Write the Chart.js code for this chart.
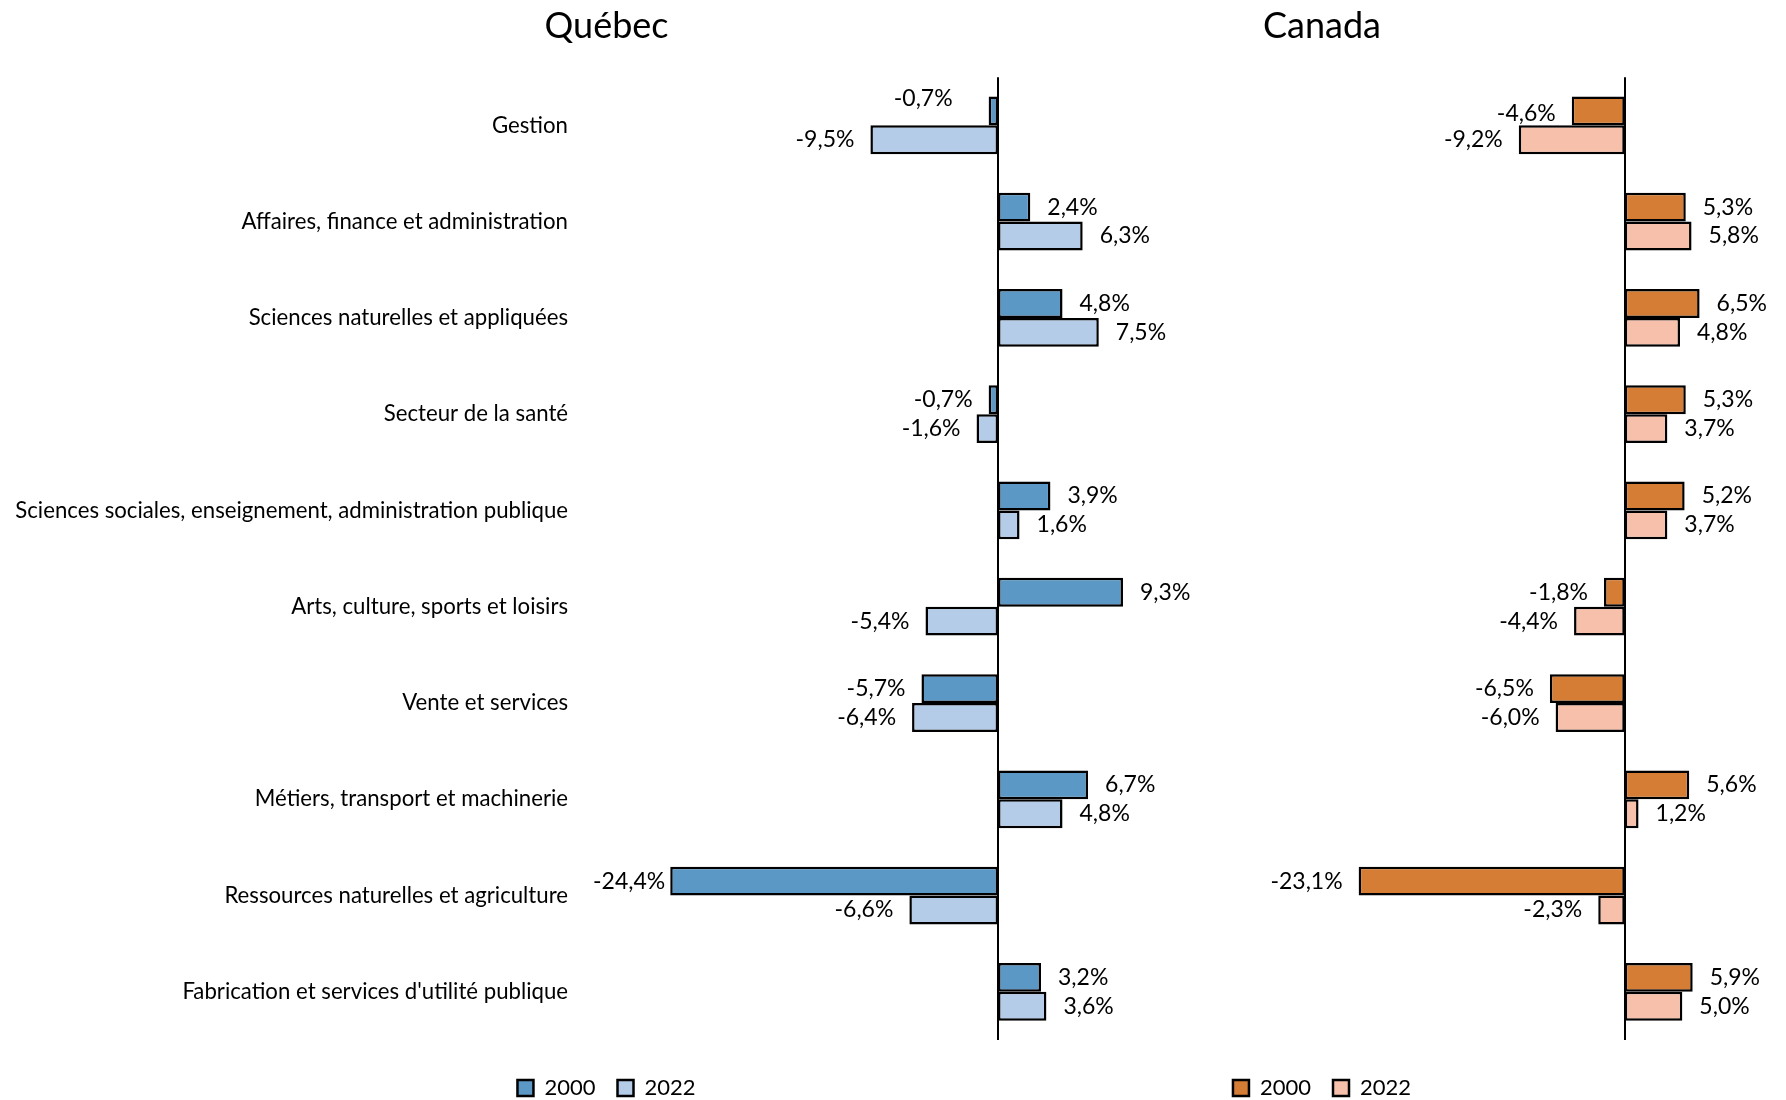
<!DOCTYPE html>
<html>
<head>
<meta charset="utf-8">
<script src="https://cdn.jsdelivr.net/npm/chart.js@4.4.1/dist/chart.umd.min.js"></script>
<style>
    body { margin: 0; background: #fff; }
    #wrap { position: relative; width: 1786px; height: 1100px; }
    canvas { position: absolute; top: 0; }
    #quebec { left: 0; }
    #canada { left: 858px; }
</style>
</head>
<body>
<div id="wrap">
    <canvas id="quebec" width="1213" height="1100"></canvas>
    <canvas id="canada" width="928" height="1100"></canvas>
</div>
<script>
// catégories professionnelles
const categories = [
    'Gestion',
    'Affaires, finance et administration',
    'Sciences naturelles et appliquées',
    'Secteur de la santé',
    'Sciences sociales, enseignement, administration publique',
    'Arts, culture, sports et loisirs',
    'Vente et services',
    'Métiers, transport et machinerie',
    'Ressources naturelles et agriculture',
    "Fabrication et services d'utilité publique"
];
const seriesYears = ['2000', '2022'];

// écarts en %
const quebec2000 = [-0.7, 2.4, 4.8, -0.7, 3.9, 9.3, -5.7, 6.7, -24.4, 3.2];
const quebec2022 = [-9.5, 6.3, 7.5, -1.6, 1.6, -5.4, -6.4, 4.8, -6.6, 3.6];
const canada2000 = [-4.6, 5.3, 6.5, 5.3, 5.2, -1.8, -6.5, 5.6, -23.1, 5.9];
const canada2022 = [-9.2, 5.8, 4.8, 3.7, 3.7, -4.4, -6.0, 1.2, -2.3, 5.0];

const FONT = 'Lato';
Chart.defaults.font.family = FONT;
Chart.defaults.color = '#000';

const fmt = v => v.toFixed(1).replace('.', ',') + '%';

// petits décalages des étiquettes (comme dans l'original)
const labelNudges = {
    'Québec:0:0': { dx: -20, dy: -12 },
    'Québec:0:8': { dx: 11, dy: 0 },
    'Canada:0:0': { dx: 0, dy: 3 }
};

const valueLabels = {
    id: 'valueLabels',
    afterDatasetsDraw(chart) {
        const ctx = chart.ctx;
        ctx.save();
        ctx.font = '23px ' + FONT;
        ctx.fillStyle = '#000';
        ctx.textBaseline = 'middle';
        chart.data.datasets.forEach((ds, di) => {
            chart.getDatasetMeta(di).data.forEach((bar, i) => {
                const v = ds.data[i];
                const n = labelNudges[chart.options.plugins.title.text + ':' + di + ':' + i] || { dx: 0, dy: 0 };
                if (v >= 0) {
                    ctx.textAlign = 'left';
                    ctx.fillText(fmt(v), bar.x + 17 + n.dx, bar.y + n.dy);
                } else {
                    ctx.textAlign = 'right';
                    ctx.fillText(fmt(v), bar.x - 16 + n.dx, bar.y + n.dy);
                }
            });
        });
        ctx.restore();
    }
};

const zeroLine = {
    id: 'zeroLine',
    afterDatasetsDraw(chart) {
        const { ctx, chartArea, scales } = chart;
        const x = Math.round(scales.x.getPixelForValue(0));
        ctx.save();
        ctx.strokeStyle = '#000';
        ctx.lineWidth = 2;
        ctx.beginPath();
        ctx.moveTo(x, chartArea.top);
        ctx.lineTo(x, chartArea.bottom);
        ctx.stroke();
        ctx.restore();
    }
};

function makeChart(id, title, d2000, d2022, colors, xmin, xmax, showLabels, axisWidth) {
    const ctx = document.getElementById(id).getContext('2d');
    return new Chart(ctx, {
        type: 'bar',
        data: {
            labels: categories,
            datasets: [{
                label: seriesYears[0],
                data: d2000,
                backgroundColor: colors[0],
                borderColor: '#000',
                borderWidth: 2.5,
                borderSkipped: false,
                categoryPercentage: 0.6,
                barPercentage: 1.0
            }, {
                label: seriesYears[1],
                data: d2022,
                backgroundColor: colors[1],
                borderColor: '#000',
                borderWidth: 2.5,
                borderSkipped: false,
                categoryPercentage: 0.6,
                barPercentage: 1.0
            }]
        },
        options: {
            indexAxis: 'y',
            responsive: false,
            animation: false,
            devicePixelRatio: 1,
            layout: { padding: { left: 0, right: 0, top: 0, bottom: -9 } },
            plugins: {
                title: {
                    display: true,
                    text: title,
                    font: { size: 36, weight: 'normal' },
                    color: '#000',
                    padding: { top: 5, bottom: 29 }
                },
                legend: {
                    position: 'bottom',
                    labels: {
                        boxWidth: 16,
                        boxHeight: 16,
                        padding: 22,
                        font: { size: 22 },
                        color: '#000'
                    }
                },
                tooltip: { enabled: false }
            },
            scales: {
                x: {
                    min: xmin,
                    max: xmax,
                    grid: { display: false, drawTicks: false },
                    border: { display: false },
                    ticks: { display: false },
                    afterFit: (scale) => { scale.height = 15; }
                },
                y: {
                    grid: { display: false, drawTicks: false },
                    border: { display: false },
                    ticks: { display: showLabels, font: { size: 22.2 }, color: '#000', padding: 27 },
                    afterFit: (scale) => { scale.width = axisWidth; }
                }
            }
        },
        plugins: [valueLabels, zeroLine]
    });
}

makeChart('quebec', 'Québec', quebec2000, quebec2022, ['#5b98c6', '#b4cce8'], -30, 16, true, 595);
makeChart('canada', 'Canada', canada2000, canada2022, ['#d67d35', '#f7c0ab'], -25.5, 14, false, 473);
</script>
</body>
</html>
